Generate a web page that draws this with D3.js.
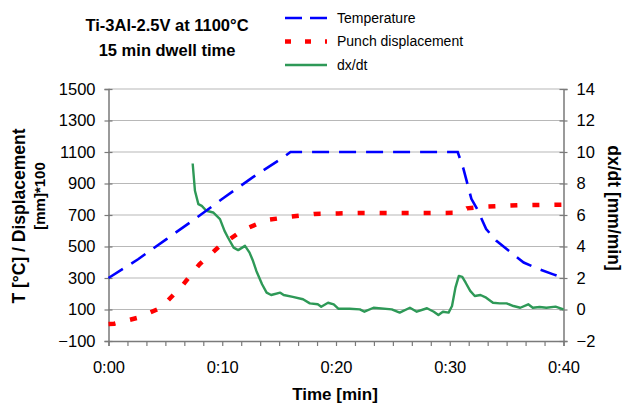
<!DOCTYPE html>
<html>
<head>
<meta charset="utf-8">
<script src="https://cdn.jsdelivr.net/npm/d3@7"></script>
<style>
  body { margin: 0; background: #fff; }
  svg text { font-family: "Liberation Sans", Arial, sans-serif; fill: #000; }
</style>
</head>
<body>
<script>
// time in minutes
var tempTime = [0, 2.6, 5.1, 7.6, 10.2, 12.7, 15.2, 16.0, 30.7, 31.2, 31.9, 32.4, 33.2, 34.1, 35.4, 36.5, 37.9, 39.1, 40];
var tempVal  = [300, 419, 547, 675, 813, 940, 1058, 1100, 1100, 994, 803, 739, 611, 536, 461, 398, 355, 323, 300];

var dispTime = [0, 0.5, 2.5, 4.6, 6.5, 8.0, 9.7, 11.8, 13.9, 16.0, 18.1, 20.2, 22.4, 25, 28, 30.8, 31.5, 32.9, 36, 40];
var dispVal  = [8, 10, 46, 110, 253, 387, 498, 604, 668, 689, 707, 710, 713, 712, 712, 714, 742, 752, 762, 766];

var rateTime = [7.4, 7.6, 7.9, 8.2, 8.6, 9.2, 9.8, 10.2, 10.5, 11.0, 11.4, 12.0, 12.4, 12.7, 13.0, 13.5, 13.9, 14.3, 15.1, 15.4,
                16.2, 17.1, 17.7, 18.4, 18.7, 19.3, 19.8, 20.2, 21.2, 22.1, 22.5, 23.3, 24.9, 25.6, 26.5, 27.1, 28.0, 28.6,
                29.0, 29.4, 29.9, 30.2, 30.5, 30.8, 31.1, 31.4, 31.8, 32.2, 32.7, 33.2, 33.8, 34.4, 35.0, 35.6, 36.2, 36.9,
                37.3, 37.9, 38.5, 39.3, 40.0];
var rateVal  = [9.27, 7.54, 6.69, 6.58, 6.27, 6.16, 5.74, 4.99, 4.57, 3.93, 3.77, 4.04, 3.61, 3.09, 2.45, 1.60, 1.07, 0.92, 1.07, 0.92,
                0.80, 0.65, 0.39, 0.33, 0.18, 0.43, 0.33, 0.05, 0.05, 0.01, -0.14, 0.11, 0.01, -0.2, 0.11, -0.14, 0.08, -0.14,
                -0.35, -0.14, -0.2, 0.22, 1.39, 2.13, 2.07, 1.70, 1.18, 0.86, 0.92, 0.75, 0.43, 0.39, 0.39, 0.22, 0.11, 0.33,
                0.11, 0.16, 0.11, 0.18, 0.01];

var leftTicks  = [-100, 100, 300, 500, 700, 900, 1100, 1300, 1500];
var rightTicks = [-2, 0, 2, 4, 6, 8, 10, 12, 14];
var timeTicks  = [0, 10, 20, 30, 40];
var timeLabels = ["0:00", "0:10", "0:20", "0:30", "0:40"];

var seriesNames = ["Temperature", "Punch displacement", "dx/dt"];
var titleLines  = ["Ti-3Al-2.5V at 1100°C", "15 min dwell time"];

var width = 625, height = 405;
var plotLeft = 108.5, plotRight = 563.5, plotTop = 89, plotBottom = 341;

var svg = d3.select("body").append("svg")
    .attr("width", width)
    .attr("height", height);

var x = d3.scaleLinear().domain([0, 40]).range([plotLeft, plotRight]);
var y = d3.scaleLinear().domain([-100, 1500]).range([plotBottom, plotTop]);
var y2 = d3.scaleLinear().domain([-2, 14]).range([plotBottom, plotTop]);

// gridlines
svg.append("g")
  .selectAll("line")
  .data(leftTicks.slice(1))
  .enter().append("line")
    .attr("x1", plotLeft).attr("x2", plotRight)
    .attr("y1", d => y(d)).attr("y2", d => y(d))
    .attr("stroke", "#b8b8b8")
    .attr("stroke-width", 1.2);

// left axis (ticks cross the line)
var gl = svg.append("g")
    .attr("transform", "translate(" + plotLeft + ",0)")
    .call(d3.axisLeft(y).tickValues(leftTicks).tickSize(4).tickPadding(9).tickFormat(d3.format("d")));
gl.selectAll(".tick line").attr("x2", 4).attr("x1", -4);

var gr = svg.append("g")
    .attr("transform", "translate(" + plotRight + ",0)")
    .call(d3.axisRight(y2).tickValues(rightTicks).tickSize(4).tickPadding(9).tickFormat(d3.format("d")));
gr.selectAll(".tick line").attr("x1", -4).attr("x2", 4);

// bottom axis: small ticks every 1:40, labels every 10 min
svg.append("g")
    .attr("transform", "translate(0," + plotBottom + ")")
    .call(d3.axisBottom(x).tickValues(d3.range(0, 40.01, 40 / 24)).tickSize(5).tickFormat(""));
svg.append("g")
    .attr("transform", "translate(0," + plotBottom + ")")
    .call(d3.axisBottom(x).tickValues(timeTicks).tickSize(0).tickPadding(20)
      .tickFormat((d, i) => timeLabels[i]))
    .select(".domain").remove();

svg.selectAll(".domain").attr("stroke", "#7a7a7a").attr("stroke-width", 1.5);
svg.selectAll(".tick line").attr("stroke", "#7a7a7a").attr("stroke-width", 1.2);
svg.selectAll(".tick text")
    .attr("font-size", 16.5)
    .attr("font-family", "Liberation Sans, Arial, sans-serif");

// series
var line = d3.line().x(d => x(d[0])).y(d => y(d[1]));
var line2 = d3.line().x(d => x(d[0])).y(d => y2(d[1]));

svg.append("path")
    .datum(rateTime.map((t, i) => [t, rateVal[i]]))
    .attr("d", line2)
    .attr("fill", "none")
    .attr("stroke", "#2e9957")
    .attr("stroke-width", 2.4)
    .attr("stroke-linejoin", "round");

svg.append("path")
    .datum(dispTime.map((t, i) => [t, dispVal[i]]))
    .attr("d", line)
    .attr("fill", "none")
    .attr("stroke", "#ff0000")
    .attr("stroke-width", 4.5)
    .attr("stroke-dasharray", "7,15");

svg.append("path")
    .datum(tempTime.map((t, i) => [t, tempVal[i]]))
    .attr("d", line)
    .attr("fill", "none")
    .attr("stroke", "#0000ff")
    .attr("stroke-width", 2.6)
    .attr("stroke-dasharray", "17,10");

// title
svg.append("g").selectAll("text")
  .data(titleLines)
  .enter().append("text")
    .attr("x", 167)
    .attr("y", (d, i) => 31 + i * 25)
    .attr("text-anchor", "middle")
    .attr("font-size", 16.5)
    .attr("font-weight", "bold")
    .text(d => d);

// legend
var legendStyles = [
  { color: "#0000ff", width: 2.6, dash: "17,8" },
  { color: "#ff0000", width: 4.5, dash: "6,14" },
  { color: "#2e9957", width: 2.4, dash: null }
];
var lg = svg.append("g").selectAll("g")
  .data(seriesNames)
  .enter().append("g")
    .attr("transform", (d, i) => "translate(285," + (18 + i * 23.5) + ")");
lg.append("line")
    .attr("x1", 0).attr("x2", 42)
    .attr("stroke", (d, i) => legendStyles[i].color)
    .attr("stroke-width", (d, i) => legendStyles[i].width)
    .attr("stroke-dasharray", (d, i) => legendStyles[i].dash);
lg.append("text")
    .attr("x", 52)
    .attr("dy", "0.35em")
    .attr("font-size", 14)
    .text(d => d);

// axis titles
svg.append("text")
    .attr("transform", "translate(25,216) rotate(-90)")
    .attr("text-anchor", "middle")
    .attr("font-size", 17.5)
    .attr("font-weight", "bold")
    .text("T [°C] / Displacement");
svg.append("text")
    .attr("transform", "translate(45,196) rotate(-90)")
    .attr("text-anchor", "middle")
    .attr("font-size", 15)
    .attr("font-weight", "bold")
    .text("[mm]*100");
svg.append("text")
    .attr("transform", "translate(608,208) rotate(90)")
    .attr("text-anchor", "middle")
    .attr("font-size", 17.5)
    .attr("font-weight", "bold")
    .text("dx/dt [mm/min]");
svg.append("text")
    .attr("x", 335)
    .attr("y", 400)
    .attr("text-anchor", "middle")
    .attr("font-size", 17)
    .attr("font-weight", "bold")
    .text("Time [min]");
</script>
</body>
</html>
